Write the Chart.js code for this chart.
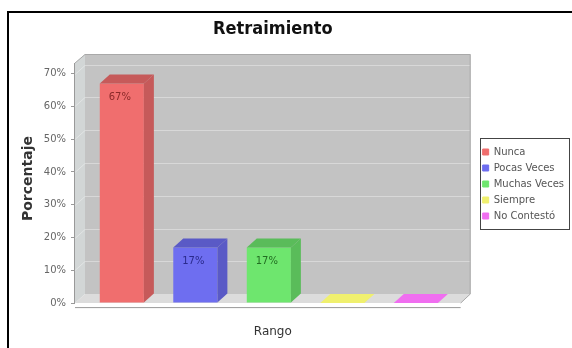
<!DOCTYPE html>
<html>
<head>
<meta charset="utf-8">
<script src="https://cdn.jsdelivr.net/npm/chart.js@4.4.1/dist/chart.umd.min.js"></script>
<style>
html, body { margin: 0; padding: 0; background: #fff; }
#caja { position: relative; width: 572px; height: 348px; }
</style>
</head>
<body>
<div id="caja"><canvas id="grafico" width="572" height="348"></canvas></div>
<script>
const categorias = ['Nunca', 'Pocas Veces', 'Muchas Veces', 'Siempre', 'No Contestó'];
const porcentajes = [67, 17, 17, 0, 0];
const ticksY = [0, 10, 20, 30, 40, 50, 60, 70];
const colores = ['#f06e6e', '#6e6ef0', '#6ee66e', '#f0f06e', '#f06ef0'];
const coloresOscuros = ['#c65a5a', '#5a5ac6', '#5abc5a', '#c6c65a', '#c65ac6'];
const coloresTexto = ['#8c2a2a', '#2a2a8c', '#226e22', '#6e6e22', '#6e226e'];

// profundidad del efecto 3D
const DX = 10, DY = 9;

function poligono(ctx, pts) {
    ctx.beginPath();
    ctx.moveTo(pts[0][0], pts[0][1]);
    for (let i = 1; i < pts.length; i++) ctx.lineTo(pts[i][0], pts[i][1]);
    ctx.closePath();
    ctx.fill();
}

const marco = {
    id: 'marco',
    beforeDraw(chart) {
        const ctx = chart.ctx;
        ctx.save();
        ctx.strokeStyle = '#000';
        ctx.lineWidth = 2;
        ctx.strokeRect(8, 12, 600, 400);
        ctx.restore();
    }
};

const fondo3d = {
    id: 'fondo3d',
    beforeDatasetsDraw(chart) {
        const ctx = chart.ctx;
        const a = chart.chartArea;
        const L = a.left, R = a.right, T = a.top, B = a.bottom;
        ctx.save();
        // pared del fondo
        ctx.fillStyle = '#c3c3c3';
        ctx.fillRect(L + DX, T, R - L - DX, B - DY - T);
        // pared izquierda
        ctx.fillStyle = '#d2d6d6';
        poligono(ctx, [[L, T + DY], [L + DX, T], [L + DX, B - DY], [L, B]]);
        // piso
        ctx.fillStyle = '#dcdcdc';
        poligono(ctx, [[L, B], [L + DX, B - DY], [R, B - DY], [R - DX, B]]);
        // lineas de la grilla en el fondo
        const y = chart.scales.y;
        ctx.strokeStyle = 'rgba(255,255,255,0.35)';
        ctx.lineWidth = 1;
        ticksY.forEach(v => {
            if (v === 0) return;
            const py = Math.round(y.getPixelForValue(v)) + 0.5;
            ctx.beginPath();
            ctx.moveTo(L, py);
            ctx.lineTo(L + DX, py - DY);
            ctx.lineTo(R, py - DY);
            ctx.stroke();
        });
        // bordes
        ctx.strokeStyle = '#a9a9a9';
        ctx.beginPath();
        ctx.moveTo(L, T + DY);
        ctx.lineTo(L + DX, T + 0.5);
        ctx.lineTo(R - 0.5, T + 0.5);
        ctx.lineTo(R - 0.5, B - DY);
        ctx.lineTo(R - DX, B);
        ctx.stroke();
        // ejes
        ctx.strokeStyle = '#999';
        ctx.beginPath();
        ctx.moveTo(L - 0.5, T + DY);
        ctx.lineTo(L - 0.5, B);
        ctx.moveTo(L, B + 4.5);
        ctx.lineTo(R - DX, B + 4.5);
        ctx.stroke();
        ctx.restore();
    },
    afterDatasetsDraw(chart) {
        const ctx = chart.ctx;
        const meta = chart.getDatasetMeta(0);
        ctx.save();
        meta.data.forEach((barra, i) => {
            const p = barra.getProps(['x', 'y', 'base', 'width'], true);
            const x0 = p.x - p.width / 2, x1 = p.x + p.width / 2;
            ctx.fillStyle = coloresOscuros[i];
            // lado derecho
            poligono(ctx, [[x1, p.y], [x1 + DX, p.y - DY], [x1 + DX, p.base - DY], [x1, p.base]]);
            // tapa
            ctx.fillStyle = porcentajes[i] === 0 ? colores[i] : coloresOscuros[i];
            poligono(ctx, [[x0, p.y], [x0 + DX, p.y - DY], [x1 + DX, p.y - DY], [x1, p.y]]);
            if (porcentajes[i] > 0) {
                ctx.fillStyle = coloresTexto[i];
                ctx.font = '10px "DejaVu Sans"';
                ctx.textAlign = 'center';
                ctx.textBaseline = 'middle';
                ctx.fillText(porcentajes[i] + '%', p.x - 2, p.y + 14);
            }
        });
        // recuadro de la leyenda
        const cajas = chart.legend.legendHitBoxes;
        if (cajas && cajas.length) {
            const primero = cajas[0], ultimo = cajas[cajas.length - 1];
            const top = primero.top + primero.height / 2 - 14;
            const bottom = ultimo.top + ultimo.height / 2 + 13;
            ctx.strokeStyle = '#444';
            ctx.lineWidth = 1;
            ctx.strokeRect(Math.round(primero.left) - 2.5, Math.round(top) + 0.5, 570 - Math.round(primero.left) + 2, Math.round(bottom - top));
        }
        ctx.restore();
    }
};

const grafico = new Chart(document.getElementById('grafico'), {
    type: 'bar',
    data: {
        datasets: [{
            label: 'Retraimiento',
            data: porcentajes.map((v, i) => ({ x: i, y: v })),
            backgroundColor: colores,
            borderWidth: 0,
            barPercentage: 0.6,
            categoryPercentage: 1
        }]
    },
    options: {
        responsive: false,
        animation: false,
        layout: { padding: { top: 20, right: 0, bottom: 0, left: 0 } },
        plugins: {
            tooltip: { enabled: false },
            title: {
                display: true,
                text: 'Retraimiento',
                fullSize: false,
                color: '#111',
                font: { family: '"DejaVu Sans Condensed", "DejaVu Sans"', size: 18, weight: 'bold', lineHeight: 1 },
                padding: { top: 0, bottom: 16 }
            },
            legend: {
                position: 'right',
                fullSize: true,
                onClick: null,
                labels: {
                    boxWidth: 6,
                    boxHeight: 6,
                    padding: 6,
                    color: '#555',
                    font: { family: '"DejaVu Sans"', size: 10, lineHeight: 1 },
                    generateLabels: () => categorias.map((c, i) => ({
                        text: c,
                        fillStyle: colores[i],
                        strokeStyle: colores[i],
                        lineWidth: 1,
                        hidden: false,
                        index: i,
                        fontColor: '#555'
                    }))
                }
            }
        },
        scales: {
            x: {
                type: 'linear',
                offset: false,
                min: -0.637,
                max: 4.746,
                afterBuildTicks: s => { s.ticks = categorias.map((c, i) => ({ value: i })); },
                grid: { display: false, offset: false },
                border: { display: false },
                ticks: { display: false },
                title: {
                    display: true,
                    text: 'Rango',
                    color: '#333',
                    font: { family: '"DejaVu Sans"', size: 12 },
                    padding: { top: 13.5, bottom: 9 }
                }
            },
            y: {
                min: 0,
                max: 76,
                afterBuildTicks: s => { s.ticks = ticksY.map(v => ({ value: v })); },
                afterFit: s => { s.width = 75; },
                grid: { drawOnChartArea: false, drawTicks: true, tickLength: 4, color: '#999' },
                border: { display: false },
                ticks: {
                    padding: 5,
                    color: '#666',
                    font: { family: '"DejaVu Sans"', size: 10 },
                    callback: v => v + '%'
                },
                title: {
                    display: true,
                    text: 'Porcentaje',
                    color: '#333',
                    font: { family: '"DejaVu Sans"', size: 14, weight: 'bold' },
                    padding: { top: 20, bottom: 0 }
                }
            },
            hueco: {
                type: 'linear',
                position: 'right',
                afterFit: s => { s.width = 6; },
                grid: { display: false },
                border: { display: false },
                ticks: { display: false }
            }
        }
    },
    plugins: [marco, fondo3d]
});
</script>
</body>
</html>
